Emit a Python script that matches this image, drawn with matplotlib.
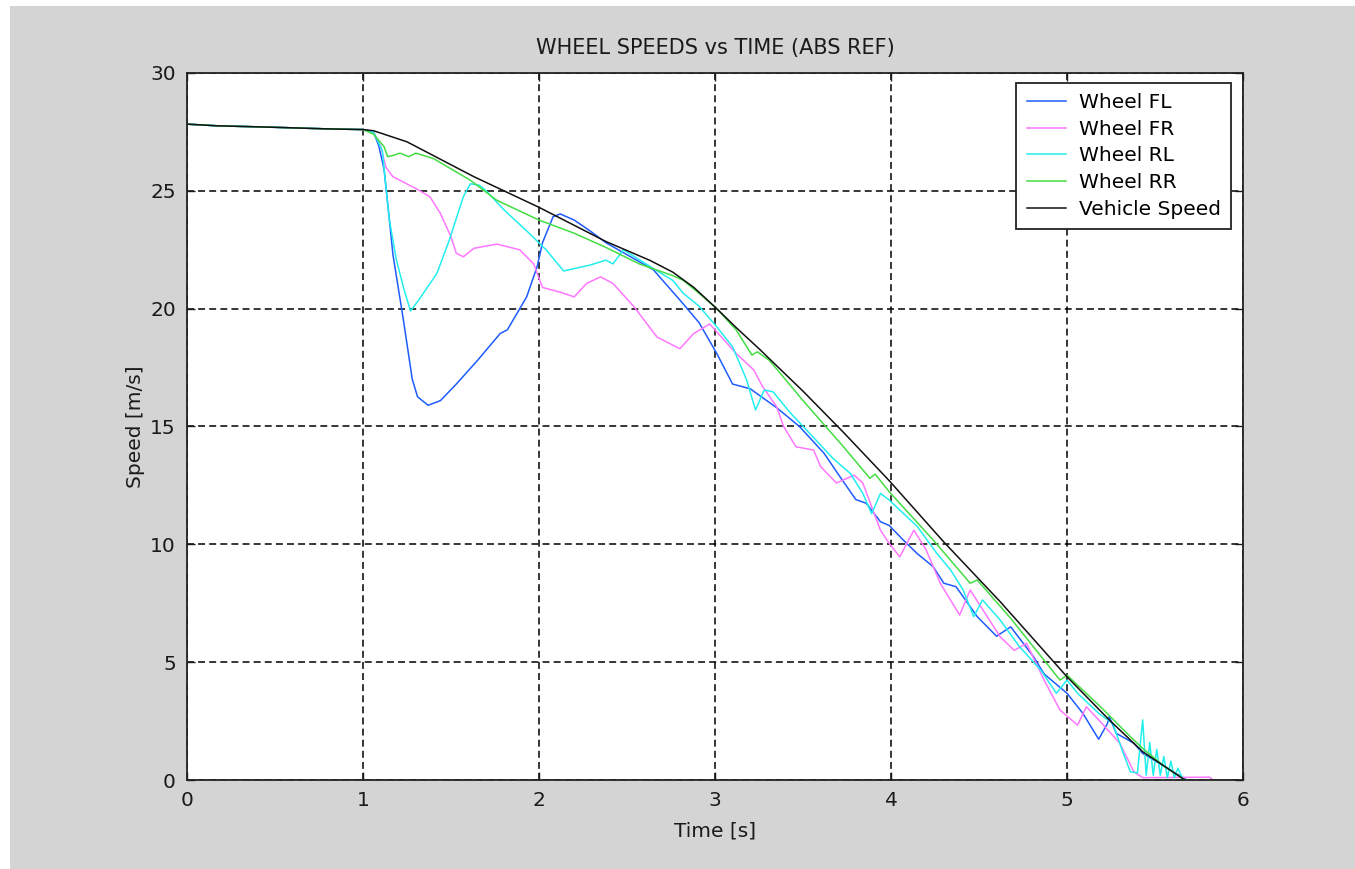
import matplotlib
matplotlib.use("Agg")
import matplotlib.pyplot as plt
from matplotlib.patches import Rectangle

plt.rcParams['font.family'] = ['DejaVu Sans']
plt.rcParams['lines.scale_dashes'] = False

# ---- data (time [s], speed [m/s]) ----
t_pre = [0.0, 0.17, 0.48, 0.79]
v_pre = [27.83, 27.76, 27.70, 27.63]

t_veh = t_pre + [1.0, 1.06, 1.25, 1.63, 2.0, 2.38, 2.63, 2.76, 2.88, 3.01, 3.12, 3.25, 3.5, 3.73,
                 3.99, 4.3, 4.62, 5.0, 5.24, 5.43, 5.67]
v_veh = v_pre + [27.6, 27.55, 27.08, 25.6, 24.3, 22.85, 22.05, 21.55, 20.9, 20.0, 19.2, 18.3, 16.5, 14.75,
                 12.7, 10.1, 7.57, 4.38, 2.55, 1.2, 0.0]

t_fl = t_pre + [1.0, 1.06, 1.09, 1.12, 1.15, 1.17, 1.23, 1.28, 1.31, 1.37, 1.44, 1.53, 1.65,
                1.78, 1.82, 1.93, 1.99, 2.02, 2.08, 2.12, 2.2, 2.29, 2.38, 2.65, 2.82, 2.91,
                3.01, 3.10, 3.2, 3.35, 3.48, 3.62, 3.71, 3.8, 3.86, 3.94, 3.99, 4.07, 4.15,
                4.24, 4.3, 4.37, 4.49, 4.6, 4.68, 4.81, 4.87, 5.0, 5.09, 5.18, 5.23, 5.24,
                5.28, 5.38, 5.43, 5.55, 5.68, 5.72]
v_fl = v_pre + [27.6, 27.5, 26.9, 25.9, 23.76, 22.3, 19.5, 17.0, 16.26, 15.9, 16.1, 16.8, 17.8,
                18.95, 19.1, 20.5, 21.8, 22.8, 23.9, 24.02, 23.76, 23.3, 22.8, 21.65, 20.2, 19.4,
                18.1, 16.8, 16.6, 15.8, 15.0, 13.86, 12.87, 11.9, 11.74, 10.96, 10.8, 10.18, 9.6,
                9.05, 8.35, 8.2, 6.93, 6.1, 6.5, 5.23, 4.5, 3.68, 2.83, 1.73, 2.4, 2.69,
                1.98, 1.56, 1.13, 0.6, 0.0, 0.0]

t_fr = t_pre + [1.0, 1.06, 1.1, 1.13, 1.17, 1.3, 1.38, 1.44, 1.5, 1.53, 1.57, 1.63, 1.76, 1.89,
                1.97, 2.02, 2.12, 2.2, 2.27, 2.35, 2.42, 2.54, 2.67, 2.8, 2.88, 2.97, 3.12, 3.22,
                3.27, 3.35, 3.39, 3.46, 3.56, 3.6, 3.69, 3.79, 3.84, 3.94, 3.99, 4.05, 4.13,
                4.2, 4.28, 4.39, 4.45, 4.62, 4.70, 4.77, 4.87, 4.96, 5.06, 5.11, 5.18, 5.3,
                5.38, 5.43, 5.81, 5.83, 5.9]
v_fr = v_pre + [27.6, 27.5, 26.9, 26.0, 25.6, 25.1, 24.75, 24.04, 23.05, 22.35, 22.2, 22.56, 22.74,
                22.5, 21.9, 20.9, 20.7, 20.5, 21.07, 21.35, 21.07, 20.08, 18.8, 18.3, 18.95, 19.35,
                18.1, 17.4, 16.7, 15.84, 15.0, 14.14, 14.0, 13.3, 12.6, 12.94, 12.6, 10.6, 10.04,
                9.47, 10.6, 9.76, 8.35, 7.0, 8.06, 6.08, 5.5, 5.8, 4.24, 2.97, 2.33, 3.11, 2.55,
                1.56, 0.35, 0.1, 0.12, 0.0, 0.0]

t_rl = t_pre + [1.0, 1.06, 1.11, 1.13, 1.15, 1.19, 1.23, 1.27, 1.32, 1.42, 1.49, 1.57, 1.61, 1.66,
                1.7, 1.8, 1.93, 2.04, 2.14, 2.2, 2.29, 2.38, 2.42, 2.48, 2.65, 2.76, 2.82, 2.91,
                3.01, 3.1, 3.18, 3.23, 3.28, 3.33, 3.43, 3.52, 3.67, 3.77, 3.84, 3.89, 3.94, 3.99,
                4.15, 4.26, 4.34, 4.41, 4.47, 4.52, 4.62, 4.73, 4.85, 4.94, 5.0, 5.06, 5.18, 5.26,
                5.32, 5.36, 5.40, 5.43, 5.45, 5.47, 5.49, 5.51, 5.53, 5.55, 5.57, 5.59, 5.61,
                5.63, 5.66, 5.7]
v_rl = v_pre + [27.6, 27.5, 26.7, 25.2, 23.76, 22.06, 20.9, 19.9, 20.4, 21.5, 22.9, 24.75, 25.3, 25.24,
                25.0, 24.2, 23.3, 22.5, 21.6, 21.7, 21.85, 22.06, 21.9, 22.5, 21.7, 21.2, 20.65, 20.1,
                19.23, 18.38, 16.97, 15.7, 16.55, 16.47, 15.56, 14.85, 13.65, 13.0, 12.16, 11.3, 12.16,
                11.88, 10.75, 9.62, 8.9, 8.06, 6.93, 7.64, 6.79, 5.66, 4.67, 3.68, 4.24, 3.68, 2.83,
                2.4, 1.13, 0.35, 0.3, 2.55, 0.2, 1.6, 0.2, 1.3, 0.2, 1.0, 0.1, 0.8, 0.1, 0.5, 0.0, 0.0]

t_rr = t_pre + [1.0, 1.06, 1.12, 1.14, 1.17, 1.21, 1.26, 1.3, 1.4, 1.61, 1.76, 2.0, 2.2, 2.38, 2.57,
                2.76, 2.82, 2.91, 3.01, 3.12, 3.21, 3.24, 3.31, 3.5, 3.73, 3.88, 3.91, 3.99, 4.24,
                4.45, 4.49, 4.68, 4.96, 5.0, 5.19, 5.36, 5.43, 5.55, 5.67]
v_rr = v_pre + [27.6, 27.4, 26.87, 26.45, 26.5, 26.6, 26.45, 26.6, 26.37, 25.45, 24.6, 23.76, 23.2,
                22.6, 21.9, 21.4, 21.2, 20.65, 20.0, 19.1, 18.03, 18.17, 17.8, 16.1, 14.14, 12.8,
                12.98, 12.23, 10.18, 8.35, 8.49, 6.86, 4.24, 4.45, 3.11, 1.84, 1.34, 0.6, 0.0]

labels = ['Wheel FL', 'Wheel FR', 'Wheel RL', 'Wheel RR', 'Vehicle Speed']
colors = ['#1f5cff', '#ff77ff', '#22eeee', '#44dd44', '#111111']
x_ticks = [0, 1, 2, 3, 4, 5, 6]
y_ticks = [0, 5, 10, 15, 20, 25, 30]

# ---- figure ----
fig = plt.figure(figsize=(13.55, 8.69), dpi=100, facecolor='white')
bg = Rectangle((10 / 1355, 0), 1, (869 - 6) / 869, transform=fig.transFigure,
               facecolor='#d4d4d4', edgecolor='none', zorder=-10)
fig.patches.append(bg)

ax = fig.add_axes([187 / 1355, 89 / 869, 1056 / 1355, 707 / 869])
ax.set_facecolor('white')

series = [(t_fl, v_fl), (t_fr, v_fr), (t_rl, v_rl), (t_rr, v_rr), (t_veh, v_veh)]
for (t, v), lab, col in zip(series, labels, colors):
    ax.plot(t, v, color=col, lw=1.1, label=lab)

ax.set_xlim(0, 6)
ax.set_ylim(0, 30)
ax.set_xticks(x_ticks)
ax.set_yticks(y_ticks)
ax.grid(True, color='black', linestyle=(0, (5, 3)), linewidth=1.1)
ax.tick_params(direction='in', length=6, width=1, top=True, right=True,
               labelsize=14.5, colors='#1a1a1a', pad=8)
for s in ax.spines.values():
    s.set_linewidth(1.3)
    s.set_color('#222222')

ax.set_title('WHEEL SPEEDS vs TIME (ABS REF)', fontsize=15, color='#1a1a1a', pad=14)
ax.set_xlabel('Time [s]', fontsize=14.5, color='#1a1a1a', labelpad=8)
ax.set_ylabel('Speed [m/s]', fontsize=14.5, color='#1a1a1a', labelpad=4)

leg = ax.legend(loc='upper right', bbox_to_anchor=(0.9886, 0.9859), borderaxespad=0,
                fontsize=14.5, fancybox=False, framealpha=1, edgecolor='#222222',
                handlelength=1.95, handletextpad=0.65, labelspacing=0.38, borderpad=0.5)
leg.get_frame().set_linewidth(1.3)

fig.savefig('out.png', dpi=100, facecolor=fig.get_facecolor())
